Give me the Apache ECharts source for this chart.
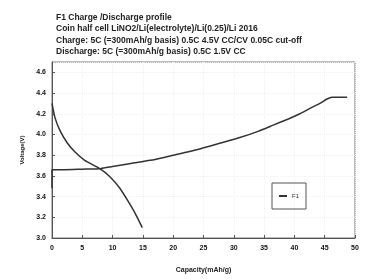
<!DOCTYPE html>
<html>
<head>
    <meta charset="UTF-8">
    <title>Charge / Discharge profile</title>
    <script src="https://cdn.jsdelivr.net/npm/echarts@6/dist/echarts.min.js"></script>
</head>
<body style="margin: 0;overflow: hidden;background: #fff;">
<div id="chart" style="width: 366px;height: 279px"></div>
<script type="text/javascript">
    // capacity (mAh/g), voltage (V)
    var chargeCap = [0, 0, 2, 5, 8, 10, 13, 16.2, 20, 24.4, 28, 31, 34, 36.5, 39, 40.9, 42.5, 44.2, 45.3, 46.2, 47.5, 48.7];
    var chargeV = [3.48, 3.66, 3.66, 3.665, 3.67, 3.69, 3.72, 3.75, 3.80, 3.86, 3.92, 3.97, 4.03, 4.09, 4.15, 4.20, 4.25, 4.30, 4.34, 4.36, 4.36, 4.36];
    var dischargeCap = [0, 0.5, 1.3, 2.5, 3.8, 5.4, 7.9, 9.6, 11.2, 12.5, 13.7, 14.9];
    var dischargeV = [4.30, 4.16, 4.04, 3.92, 3.83, 3.75, 3.67, 3.59, 3.48, 3.36, 3.24, 3.10];
    var xTicks = [0, 5, 10, 15, 20, 25, 30, 35, 40, 45, 50];
    var titleLines = [
        'F1 Charge /Discharge profile',
        'Coin half cell LiNO2/Li(electrolyte)/Li(0.25)/Li 2016',
        'Charge: 5C (=300mAh/g basis) 0.5C 4.5V CC/CV 0.05C cut-off',
        'Discharge: 5C (=300mAh/g basis) 0.5C 1.5V CC'
    ];

    function pairs(xs, ys) {
        var out = [];
        for (var i = 0; i < xs.length; i++) {
            out.push([xs[i], ys[i]]);
        }
        return out;
    }

    var chart = echarts.init(document.getElementById('chart'));
    var option = {
        backgroundColor: '#fff',
        animation: false,
        title: {
            text: titleLines.join('\n'),
            left: 51,
            top: 7,
            textStyle: {
                fontFamily: 'Liberation Sans',
                fontSize: 8.5,
                fontWeight: 'bold',
                color: '#222',
                lineHeight: 11.3
            }
        },
        legend: {
            data: ['F1'],
            left: 272,
            top: 183,
            orient: 'vertical',
            padding: [10, 7, 10, 7],
            borderColor: '#555',
            borderWidth: 1,
            itemWidth: 8,
            itemHeight: 2,
            icon: 'rect',
            textStyle: {fontSize: 6, color: '#333', fontFamily: 'Liberation Sans'}
        },
        grid: {
            left: 52,
            right: 11,
            top: 62,
            bottom: 36,
            show: true,
            borderColor: '#777',
            borderWidth: 1
        },
        xAxis: {
            type: 'value',
            min: 0,
            max: 50,
            interval: 5,
            name: 'Capacity(mAh/g)',
            nameLocation: 'middle',
            nameGap: 29,
            nameTextStyle: {fontSize: 7, fontWeight: 'bold', color: '#222', fontFamily: 'Liberation Sans'},
            axisLine: {lineStyle: {color: '#555'}},
            axisTick: {show: true, length: 3, inside: true},
            axisLabel: {
                fontSize: 7, fontWeight: 'bold', color: '#111', margin: 7, fontFamily: 'Liberation Sans',
                customValues: xTicks
            },
            splitLine: {show: true, lineStyle: {color: '#f0f0f0', type: 'dotted'}}
        },
        yAxis: {
            type: 'value',
            min: 3.0,
            max: 4.7,
            interval: 0.2,
            name: 'Voltage(V)',
            nameLocation: 'middle',
            nameGap: 22,
            nameTextStyle: {fontSize: 6, fontWeight: 'bold', color: '#222', fontFamily: 'Liberation Sans'},
            axisLine: {show: true, lineStyle: {color: '#555'}},
            axisTick: {show: true, length: 3, inside: true},
            axisLabel: {
                fontSize: 7, fontWeight: 'bold', color: '#111', margin: 6, showMaxLabel: false,
                fontFamily: 'Liberation Sans',
                formatter: function (v) { return v.toFixed(1); }
            },
            splitLine: {show: true, lineStyle: {color: '#f0f0f0', type: 'dotted'}}
        },
        series: [{
            name: 'F1',
            type: 'line',
            data: pairs(chargeCap, chargeV),
            showSymbol: false,
            smooth: 0.2,
            lineStyle: {color: '#333', width: 1.5},
            itemStyle: {color: '#333'}
        }, {
            name: 'F1 discharge',
            type: 'line',
            data: pairs(dischargeCap, dischargeV),
            showSymbol: false,
            smooth: 0.2,
            lineStyle: {color: '#333', width: 1.5},
            itemStyle: {color: '#333'}
        }]
    };
    chart.setOption(option);
</script>
</body>
</html>
